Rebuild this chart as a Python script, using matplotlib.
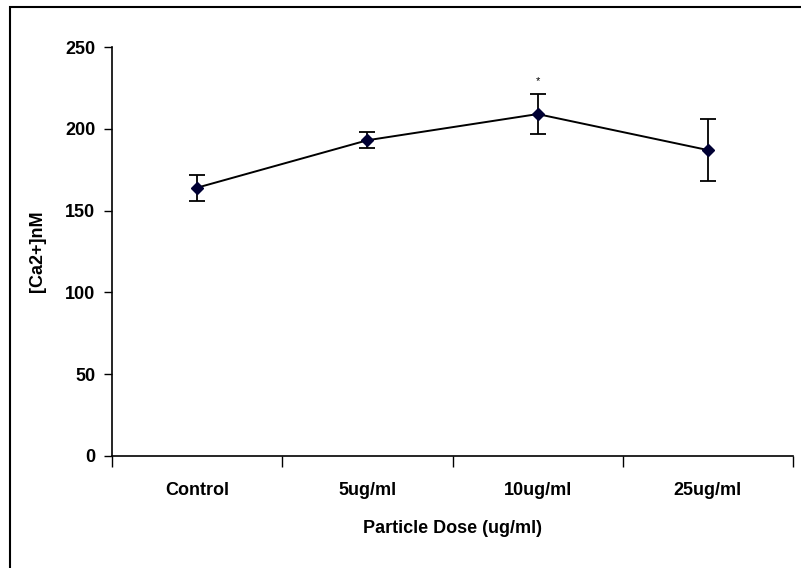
import matplotlib
matplotlib.use("Agg")
import matplotlib.pyplot as plt
from matplotlib.patches import Rectangle
from matplotlib import font_manager

categories = ["Control", "5ug/ml", "10ug/ml", "25ug/ml"]
values = [164, 193, 209, 187]
errors = [8, 5, 12, 19]
yticks = [0, 50, 100, 150, 200, 250]
star_index = 2

names = {f.name for f in font_manager.fontManager.ttflist}
fam = ["Liberation Sans Narrow", "Liberation Sans", "DejaVu Sans"]
fam = [f for f in fam if f in names] + ["DejaVu Sans"]
plt.rcParams["font.family"] = fam

fig = plt.figure(figsize=(8.01, 5.68), dpi=100)
fig.patch.set_facecolor("white")
fig.add_artist(Rectangle((10 / 801, -0.05), 1.2, (568 - 7) / 568 + 0.05,
                         transform=fig.transFigure, fill=False,
                         edgecolor="black", linewidth=1.5))

ax = fig.add_axes([112 / 801, (568 - 456) / 568, 681 / 801, 409 / 568])
x = list(range(1, len(categories) + 1))
ax.errorbar(x, values, yerr=errors, color="black", linewidth=1.4,
            elinewidth=1.3, capsize=6, capthick=1.3,
            marker="D", markersize=6.5, markerfacecolor="#000033",
            markeredgecolor="#000033", ecolor="black", zorder=3)
ax.text(x[star_index], values[star_index] + errors[star_index] + 5, "*",
        ha="center", va="bottom", fontsize=8)

ax.set_xlim(0.5, len(categories) + 0.5)
ax.set_ylim(0, 250)
ax.set_yticks(yticks)
ax.set_yticklabels([str(v) for v in yticks], fontsize=13, fontweight="bold")
ax.set_xticks([i + 0.5 for i in range(len(categories) + 1)])
ax.set_xticklabels([])
ax.set_xticks(x, minor=True)
ax.set_xticklabels(categories, minor=True, fontsize=13, fontweight="bold")
ax.tick_params(axis="x", which="major", direction="out", length=8, width=1)
ax.tick_params(axis="x", which="minor", length=0, pad=19)
ax.tick_params(axis="y", direction="out", length=6, width=1, pad=6)

for s in ["top", "right"]:
    ax.spines[s].set_visible(False)
ax.spines["left"].set_linewidth(1.2)
ax.spines["bottom"].set_linewidth(1.2)

ax.set_ylabel("[Ca2+]nM", fontsize=13, fontweight="bold", labelpad=14)
ax.set_xlabel("Particle Dose (ug/ml)", fontsize=13, fontweight="bold", labelpad=15)

fig.savefig("out.png", dpi=100, facecolor="white")
